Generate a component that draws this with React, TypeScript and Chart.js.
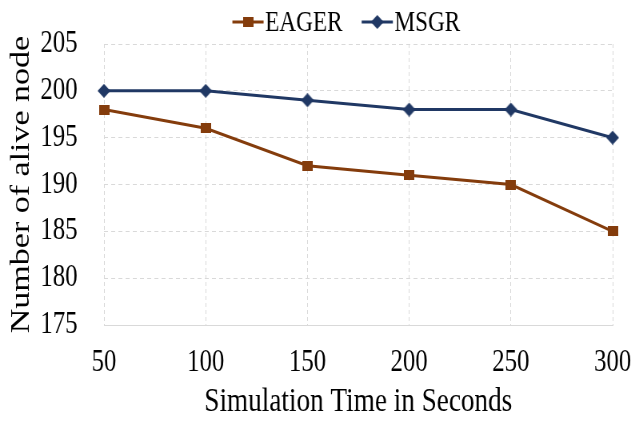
import React, { useEffect, useRef } from "react";
import { Chart, registerables } from "chart.js";

Chart.register(...registerables);

const categories = ["50", "100", "150", "200", "250", "300"];
const eagerValues = [198, 196, 192, 191, 190, 185];
const msgrValues = [200, 200, 199, 198, 198, 195];
const seriesNames = ["EAGER", "MSGR"];
const yTitle = "Number of alive node";
const xTitle = "Simulation Time in Seconds";

const EAGER_COLOR = "#843C0C";
const MSGR_COLOR = "#203864";
const FONT = "'Liberation Serif', 'Times New Roman', serif";

// The reference is horizontally condensed; draw on a wider backing canvas and squeeze it.
const OUT_W = 635;
const OUT_H = 421;
const SQ = 0.8;
const IN_W = Math.round(OUT_W / SQ);

function squareMarker(color: string, w: number, h: number) {
  const c = document.createElement("canvas");
  c.width = Math.round(w / SQ);
  c.height = h;
  const ctx = c.getContext("2d")!;
  ctx.fillStyle = color;
  ctx.fillRect(0, 0, c.width, c.height);
  return c;
}

function diamondMarker(color: string, w: number, h: number) {
  const c = document.createElement("canvas");
  c.width = Math.round(w / SQ);
  c.height = h;
  const ctx = c.getContext("2d")!;
  ctx.fillStyle = color;
  ctx.beginPath();
  ctx.moveTo(c.width / 2, 0);
  ctx.lineTo(c.width, c.height / 2);
  ctx.lineTo(c.width / 2, c.height);
  ctx.lineTo(0, c.height / 2);
  ctx.closePath();
  ctx.fill();
  return c;
}

export default function App() {
  const ref = useRef<HTMLCanvasElement | null>(null);

  useEffect(() => {
    document.body.style.margin = "0";
    const sq = squareMarker(EAGER_COLOR, 10, 10);
    const dm = diamondMarker(MSGR_COLOR, 13, 14);
    const markers = [sq, dm];
    const colors = [EAGER_COLOR, MSGR_COLOR];

    const legendPlugin = {
      id: "customLegend",
      afterDraw(ch: any) {
        const ctx = ch.ctx as CanvasRenderingContext2D;
        ctx.save();
        ctx.font = `29px ${FONT}`;
        ctx.textBaseline = "middle";
        ctx.textAlign = "left";
        const iconW = 39;
        const gap = 2;
        const spacing = 24;
        const widths = seriesNames.map((n) => ctx.measureText(n).width);
        const total = iconW * 2 + gap * 2 + widths[0] + widths[1] + spacing;
        let x = 433 - total / 2;
        const y = 22;
        for (let i = 0; i < seriesNames.length; i++) {
          ctx.strokeStyle = colors[i];
          ctx.lineWidth = 3;
          ctx.beginPath();
          ctx.moveTo(x, y);
          ctx.lineTo(x + iconW, y);
          ctx.stroke();
          const m = markers[i];
          ctx.drawImage(m, x + iconW / 2 - m.width / 2, y - m.height / 2);
          x += iconW + gap;
          ctx.fillStyle = "#000";
          ctx.fillText(seriesNames[i], x, y + 1);
          x += widths[i] + spacing;
        }
        ctx.restore();
      },
    };

    const chart = new Chart(ref.current!, {
      type: "line",
      data: {
        labels: categories,
        datasets: [
          {
            label: seriesNames[0],
            data: eagerValues,
            borderColor: EAGER_COLOR,
            backgroundColor: EAGER_COLOR,
            borderWidth: 3,
            pointStyle: sq,
            pointRadius: 6,
            tension: 0,
          },
          {
            label: seriesNames[1],
            data: msgrValues,
            borderColor: MSGR_COLOR,
            backgroundColor: MSGR_COLOR,
            borderWidth: 3,
            pointStyle: dm,
            pointRadius: 7,
            tension: 0,
          },
        ],
      },
      options: {
        animation: false,
        responsive: false,
        maintainAspectRatio: false,
        devicePixelRatio: 1,
        layout: { padding: { left: 0, right: 28, top: 44, bottom: 0 } },
        plugins: {
          tooltip: { enabled: false },
          legend: { display: false },
        },
        scales: {
          x: {
            offset: false,
            afterFit: (s: any) => {
              s.height = 96;
              s.paddingLeft = 0;
              s.paddingRight = 0;
            },
            grid: {
              color: "#d9d9d9",
              lineWidth: 1,
              drawTicks: false,
            },
            border: { display: true, color: "#d9d9d9", width: 1, dash: [4, 3] },
            ticks: {
              font: { family: FONT, size: 31 },
              color: "#000",
              padding: 19,
              maxRotation: 0,
            },
            title: {
              display: true,
              text: xTitle,
              font: { family: FONT, size: 34, lineHeight: 1.1 },
              color: "#000",
              padding: { top: 0, bottom: 0 },
            },
          },
          y: {
            min: 175,
            max: 205,
            afterFit: (s: any) => {
              s.width = 130;
              s.paddingTop = 0;
              s.paddingBottom = 0;
            },
            ticks: {
              stepSize: 5,
              font: { family: FONT, size: 31 },
              color: "#000",
              padding: 33,
            },
            grid: {
              color: "#d9d9d9",
              lineWidth: 1,
              drawTicks: false,
            },
            border: { display: false, dash: [5, 4] },
            title: {
              display: true,
              text: yTitle,
              font: { family: FONT, size: 34 },
              color: "#000",
              padding: { top: 7, bottom: 0 },
            },
          },
        },
      },
      plugins: [legendPlugin],
    } as any);
    return () => chart.destroy();
  }, []);

  return (
    <canvas
      ref={ref}
      width={IN_W}
      height={OUT_H}
      style={{ display: "block", width: `${OUT_W}px`, height: `${OUT_H}px` }}
    />
  );
}
